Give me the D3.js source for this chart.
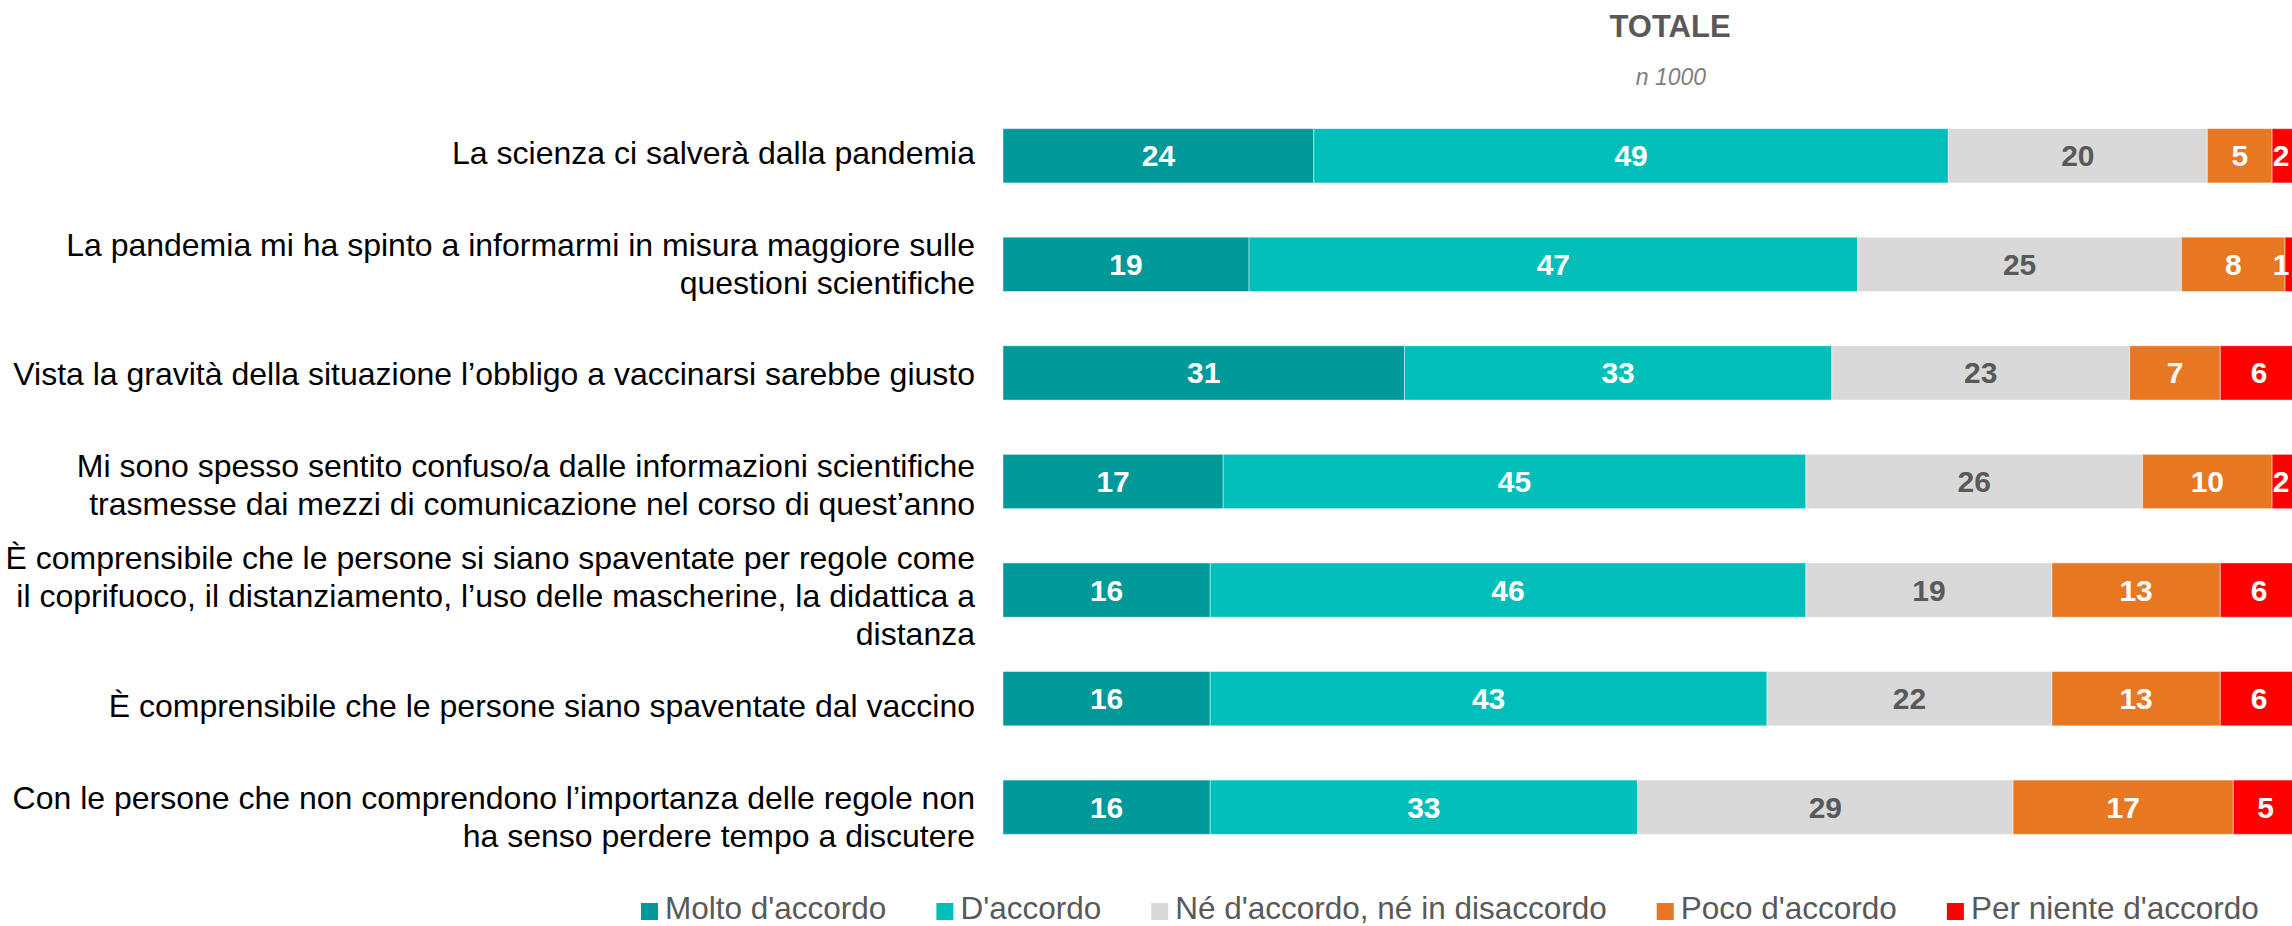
<!DOCTYPE html>
<html>
<head>
<meta charset="utf-8">
<script src="https://cdn.jsdelivr.net/npm/d3@7"></script>
<style>
  body { margin: 0; background: #fff; }
  text { font-family: Arial, "Liberation Sans", sans-serif; }
</style>
</head>
<body>
<script>
// statements, already broken into lines as in the original slide
var statements = [
  ["La scienza ci salverà dalla pandemia"],
  ["La pandemia mi ha spinto a informarmi in misura maggiore sulle", "questioni scientifiche"],
  ["Vista la gravità della situazione l’obbligo a vaccinarsi sarebbe giusto"],
  ["Mi sono spesso sentito confuso/a dalle informazioni scientifiche", "trasmesse dai mezzi di comunicazione nel corso di quest’anno"],
  ["È comprensibile che le persone si siano spaventate per regole come", "il coprifuoco, il distanziamento, l’uso delle mascherine, la didattica a", "distanza"],
  ["È comprensibile che le persone siano spaventate dal vaccino"],
  ["Con le persone che non comprendono l’importanza delle regole non", "ha senso perdere tempo a discutere"]
];

var seriesNames = ["Molto d'accordo", "D'accordo", "Né d'accordo, né in disaccordo", "Poco d'accordo", "Per niente d'accordo"];
var seriesColors = ["#00999a", "#00bfbb", "#d9d9d9", "#e87722", "#ff0000"];

var molto     = [24, 19, 31, 17, 16, 16, 16];
var daccordo  = [49, 47, 33, 45, 46, 43, 33];
var neutro    = [20, 25, 23, 26, 19, 22, 29];
var poco      = [5, 8, 7, 10, 13, 13, 17];
var perNiente = [2, 1, 6, 2, 6, 6, 5];

var title = "TOTALE";
var subtitle = "n 1000";

var width = 2292, height = 926;

var svg = d3.select("body")
            .append("svg")
              .attr("width", width)
              .attr("height", height);

var rows = statements.map(function(s, i) {
  var r = { idx: i };
  r[seriesNames[0]] = molto[i];
  r[seriesNames[1]] = daccordo[i];
  r[seriesNames[2]] = neutro[i];
  r[seriesNames[3]] = poco[i];
  r[seriesNames[4]] = perNiente[i];
  return r;
});

var stacked = d3.stack().keys(seriesNames)(rows);

var x = d3.scaleLinear().domain([0, 100]).range([1003, 2298]);
var y = d3.scaleBand()
          .domain(d3.range(statements.length))
          .range([101.5, 861.5])
          .paddingInner(0.5)
          .paddingOuter(0.25);
// the text column in the slide drifts a little lower than the bars
var yLabel = d3.scalePoint()
               .domain(d3.range(statements.length))
               .range([152.8, 817]);
var color = d3.scaleOrdinal().domain(seriesNames).range(seriesColors);

// title
svg.append("text")
   .attr("x", 1670).attr("y", 37)
   .attr("text-anchor", "middle")
   .style("font-size", "31px").style("font-weight", "bold")
   .attr("fill", "#595959")
   .text(title);

svg.append("text")
   .attr("x", 1671).attr("y", 85)
   .attr("text-anchor", "middle")
   .style("font-size", "23px").style("font-style", "italic")
   .attr("fill", "#7f7f7f")
   .text(subtitle);

// bars
var layer = svg.selectAll("g.layer")
               .data(stacked)
               .enter()
               .append("g")
                 .attr("class", "layer")
                 .attr("fill", function(d) { return color(d.key); });

layer.selectAll("rect")
     .data(function(d) { return d; })
     .enter()
     .append("rect")
       .attr("x", function(d) { return x(d[0]); })
       .attr("y", function(d) { return y(d.data.idx); })
       .attr("width", function(d) { return x(d[1]) - x(d[0]); })
       .attr("height", y.bandwidth())
       .attr("stroke", "#fff")
       .attr("stroke-opacity", 0.45)
       .attr("stroke-width", 1);

layer.selectAll("text")
     .data(function(d) { return d.map(function(p) { p.key = d.key; return p; }); })
     .enter()
     .append("text")
       .attr("x", function(d) { return Math.min((x(d[0]) + x(d[1])) / 2, 2281); })
       .attr("y", function(d) { return y(d.data.idx) + y.bandwidth() / 2 + 10.5; })
       .attr("text-anchor", "middle")
       .style("font-size", "30px").style("font-weight", "bold")
       .attr("fill", function(d) { return d.key === seriesNames[2] ? "#595959" : "#fff"; })
       .text(function(d) { return d[1] - d[0]; });

// category labels
var lineH = 38;
var labels = svg.selectAll("text.cat")
                .data(statements)
                .enter()
                .append("text")
                  .attr("class", "cat")
                  .attr("text-anchor", "end")
                  .style("font-size", "32px")
                  .attr("fill", "#000");

labels.each(function(lines, i) {
  var cy = yLabel(i);
  var top = cy - (lines.length - 1) * lineH / 2 + 11;
  d3.select(this).selectAll("tspan")
    .data(lines)
    .enter()
    .append("tspan")
      .attr("x", 975)
      .attr("y", function(l, j) { return top + j * lineH; })
      .text(function(l) { return l; });
});

// legend
var legend = svg.append("g");
var lx = 641;
seriesNames.forEach(function(name, i) {
  legend.append("rect")
        .attr("x", lx).attr("y", 903)
        .attr("width", 17).attr("height", 17)
        .attr("fill", seriesColors[i]);
  var t = legend.append("text")
                .attr("x", lx + 24).attr("y", 919)
                .style("font-size", "31.5px")
                .attr("fill", "#595959")
                .text(name);
  lx = lx + 24 + t.node().getComputedTextLength() + 50;
});
</script>
</body>
</html>
